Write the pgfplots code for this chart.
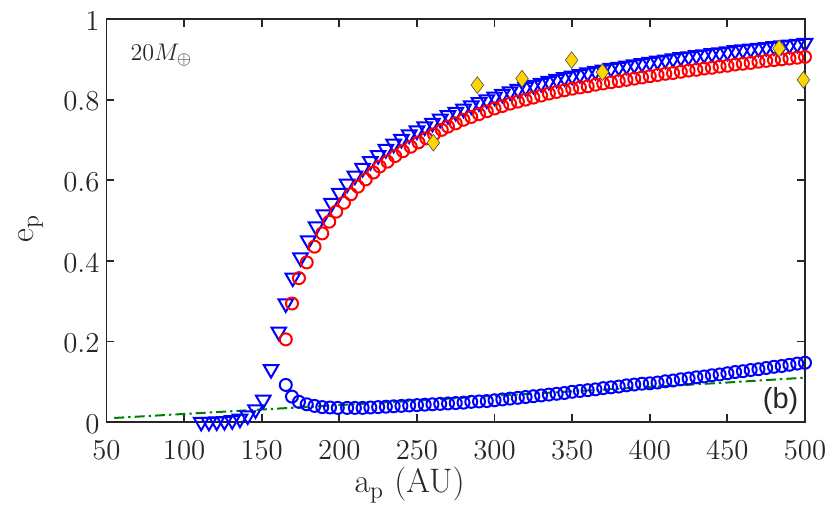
\documentclass[border=0pt]{standalone}
\usepackage{pgfplots}
\pgfplotsset{compat=1.18}
\usepackage{pgfplotstable}
\usepackage{fontspec}
\newfontfamily\helv{Liberation Sans}
\definecolor{axgray}{gray}{0.15}
\definecolor{mgreen}{rgb}{0,0.5,0}
\definecolor{gold}{rgb}{1,0.83,0}

\pgfplotstableread{
x y
111 0.000
116 0.000
121 0.001
126 0.002
131 0.004
136 0.008
141 0.016
146 0.031
151 0.055
156 0.131
161 0.224
165.5 0.294
170 0.358
175 0.408
180 0.450
185 0.485
190 0.515
195 0.543
200 0.568
205 0.591
210 0.611
215 0.630
220 0.647
225 0.662
230 0.677
235 0.690
240 0.702
245 0.713
250 0.723
255 0.733
260 0.742
265 0.752
270 0.761
275 0.769
280 0.777
285 0.785
290 0.793
295 0.800
300 0.807
305 0.814
310 0.820
315 0.826
320 0.831
325 0.836
330 0.841
335 0.846
340 0.851
345 0.855
350 0.859
355 0.863
360 0.867
365 0.871
370 0.874
375 0.878
380 0.881
385 0.884
390 0.887
395 0.890
400 0.893
405 0.896
410 0.899
415 0.902
420 0.905
425 0.907
430 0.910
435 0.912
440 0.915
445 0.917
450 0.919
455 0.922
460 0.924
465 0.926
470 0.928
475 0.930
480 0.932
485 0.934
490 0.936
495 0.938
500 0.940
}\tri

\pgfplotstableread{
x y
165.5 0.205
169.5 0.294
174 0.357
179 0.396
184 0.435
189 0.468
193.5 0.497
198 0.522
203 0.544
207.5 0.565
212 0.584
217 0.602
222 0.619
226 0.634
231 0.646
236 0.660
241 0.672
246 0.683
251 0.694
256 0.704
261 0.714
266 0.725
270 0.733
275 0.741
280 0.750
285 0.757
290 0.764
295 0.771
300 0.778
305 0.784
310 0.790
315 0.795
320 0.800
325 0.805
330 0.810
335 0.815
340 0.819
345 0.823
350 0.827
355 0.830
360 0.833
365 0.837
370 0.840
375 0.843
380 0.846
385 0.849
390 0.852
395 0.855
400 0.858
405 0.861
410 0.864
415 0.866
420 0.869
425 0.872
430 0.874
435 0.877
440 0.879
445 0.882
450 0.884
455 0.887
460 0.889
465 0.891
470 0.894
475 0.896
480 0.898
485 0.900
490 0.902
495 0.904
500 0.906
}\redc

\pgfplotstableread{
x y
165.5 0.092
169.5 0.063
174 0.050
179 0.044
184 0.040
189 0.037
194 0.036
199 0.035
205 0.035
210 0.035
215 0.035
220 0.036
225 0.037
230 0.038
235 0.039
240 0.040
245 0.041
250 0.042
255 0.043
260 0.044
265 0.045
270 0.046
275 0.047
280 0.048
285 0.050
290 0.051
295 0.052
300 0.054
305 0.056
310 0.058
315 0.060
320 0.062
325 0.064
330 0.066
335 0.068
340 0.070
345 0.072
350 0.075
355 0.077
360 0.079
365 0.081
370 0.084
375 0.086
380 0.088
385 0.091
390 0.093
395 0.095
400 0.096
405 0.098
410 0.101
415 0.103
420 0.106
425 0.108
430 0.111
435 0.113
440 0.116
445 0.118
450 0.121
455 0.124
460 0.126
465 0.129
470 0.131
475 0.134
480 0.137
485 0.139
490 0.142
495 0.145
500 0.147
}\bluec

\pgfplotstableread{
x y
55 0.010
100 0.020
150 0.031
200 0.042
250 0.053
300 0.065
350 0.076
400 0.087
450 0.098
500 0.110
}\green

\pgfplotstableread{
x y
260.6 0.693
288.9 0.836
317.7 0.852
349.7 0.898
369.5 0.868
483.3 0.927
499 0.849
}\diam

\begin{document}
\begin{tikzpicture}
\useasboundingbox (-53.25pt,-52pt) rectangle (361.75pt,211pt);
\begin{axis}[
  at={(0,0)}, anchor=south west,
  scale only axis, width=349.25pt, height=201.5pt,
  xmin=50, xmax=500, ymin=0, ymax=1,
  xtick={50,100,...,500}, ytick={0,0.2,0.4,0.6,0.8,1},
  axis line style={axgray, line width=0.9pt},
  tick style={axgray, line width=0.9pt},
  major tick length=3.8pt,
  tick align=inside,
  ticklabel style={font=\fontsize{15}{17}\selectfont, text=axgray},
  xticklabel style={yshift=-6pt},
  yticklabel style={yshift=-1pt},
  xlabel={$\mathrm{a_p}$ (AU)},
  ylabel={$\mathrm{e_p}$},
  label style={font=\fontsize{17}{20}\selectfont, text=axgray},
  xlabel style={at={(axis description cs:0.434,0)}, anchor=center, yshift=-31.5pt},
  ylabel style={at={(axis description cs:0,0.48)}, anchor=center, yshift=38pt},
  clip=false,
]
\addplot[only marks, mark=triangle, mark size=4.2pt, blue, mark options={rotate=180, line width=1pt}] table {\tri};
\addplot[only marks, mark=o, mark size=3.0pt, blue, mark options={line width=1pt}] table {\bluec};
\addplot[only marks, mark=o, mark size=3.0pt, red, mark options={line width=1pt}] table {\redc};
\addplot[mgreen, line width=1pt, dash pattern=on 5pt off 2pt on 1.2pt off 2pt] table {\green};
\addplot[only marks, mark=diamond*, mark size=4.2pt, mark options={fill=gold, draw=black!70, line width=0.3pt}] table {\diam};
\node[anchor=west, font=\fontsize{12.5}{14}\selectfont, text=axgray] at (axis cs:61,0.91) {$20M_{\oplus}$};
\node[anchor=center, font=\helv\fontsize{14.5}{16}\selectfont, text=axgray] at (axis cs:484.3,0.051) {(b)};
\end{axis}
\end{tikzpicture}
\end{document}
